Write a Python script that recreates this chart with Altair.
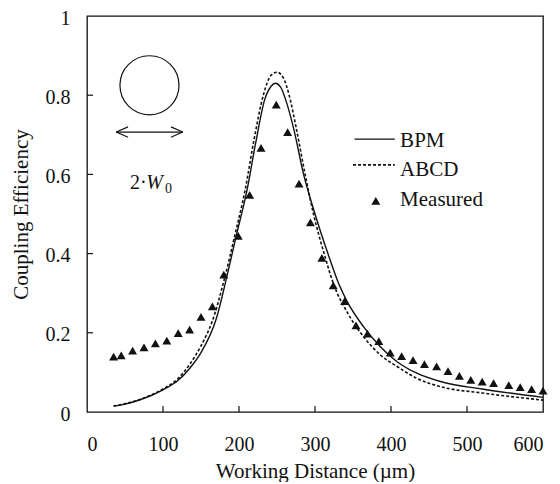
import altair as alt
import pandas as pd

FONT = "'Liberation Serif', 'Times New Roman', Times, serif"
INK = "#111111"

# Measured data (triangles)
meas_x = [35, 45, 60, 75, 90, 105, 120, 135, 150, 165, 180, 199, 214, 229, 249, 264, 279, 294,
          309, 324, 339, 354, 369, 384, 399, 414, 429, 444, 460, 475, 490, 505, 520, 535, 555,
          570, 585, 600]
meas_y = [0.140, 0.143, 0.155, 0.163, 0.173, 0.180, 0.199, 0.208, 0.240, 0.267, 0.347, 0.445,
          0.548, 0.667, 0.776, 0.707, 0.577, 0.479, 0.389, 0.320, 0.280, 0.219, 0.198, 0.179,
          0.150, 0.141, 0.131, 0.121, 0.115, 0.103, 0.091, 0.081, 0.077, 0.073, 0.068, 0.063,
          0.058, 0.054]

# BPM (solid)
bpm_x = [35, 50, 70, 100, 120, 135, 150, 170, 185, 197, 210, 222, 234, 242, 248, 255, 262, 272,
         285, 300, 317, 331, 342, 364, 386, 408, 434, 465, 520, 600]
bpm_y = [0.015, 0.020, 0.031, 0.056, 0.080, 0.110, 0.150, 0.235, 0.350, 0.450, 0.555, 0.680,
         0.790, 0.822, 0.830, 0.820, 0.785, 0.715, 0.600, 0.500, 0.400, 0.325, 0.280, 0.215,
         0.165, 0.127, 0.098, 0.077, 0.058, 0.037]

# ABCD (dotted)
abcd_x = [35, 70, 100, 120, 135, 150, 165, 180, 195, 208, 220, 232, 242, 250, 258, 266, 275, 287,
          298, 312, 325, 342, 364, 386, 408, 434, 465, 520, 600]
abcd_y = [0.015, 0.032, 0.058, 0.085, 0.120, 0.167, 0.230, 0.330, 0.450, 0.560, 0.690, 0.800,
          0.850, 0.858, 0.845, 0.800, 0.720, 0.600, 0.500, 0.400, 0.320, 0.253, 0.190, 0.144,
          0.115, 0.085, 0.064, 0.048, 0.030]

x_ticks = [0, 100, 200, 300, 400, 500, 600]
y_ticks = [0, 0.2, 0.4, 0.6, 0.8, 1.0]

# Legend entries (data coordinates)
leg_labels = ["BPM", "ABCD", "Measured"]
leg_text_x = [412, 412, 412]
leg_text_y = [0.684, 0.611, 0.536]

W, H = 456, 396
X_TITLE = "Working Distance (\u00b5m)"
Y_TITLE = "Coupling Efficiency"

xs = alt.Scale(domain=[0, 600], nice=False, zero=False)
ys = alt.Scale(domain=[0, 1], nice=False, zero=False)
x_axis = alt.Axis(values=x_ticks, format="d")
y_axis = alt.Axis(values=y_ticks, format="~g")


def X(f="x"):
    return alt.X(f"{f}:Q", scale=xs, axis=x_axis, title=X_TITLE)


def Y(f="y"):
    return alt.Y(f"{f}:Q", scale=ys, axis=y_axis, title=Y_TITLE)


meas = pd.DataFrame({"x": meas_x, "y": meas_y})
bpm = pd.DataFrame({"x": bpm_x, "y": bpm_y})
abcd = pd.DataFrame({"x": abcd_x, "y": abcd_y})

bpm_layer = alt.Chart(bpm).mark_line(color=INK, strokeWidth=1.4, interpolate="monotone").encode(
    x=X(), y=Y())

abcd_layer = alt.Chart(abcd).mark_line(color=INK, strokeWidth=1.6, strokeDash=[3, 2],
                                       interpolate="monotone").encode(x=X(), y=Y())

meas_layer = alt.Chart(meas).mark_point(shape="triangle-up", filled=True, color=INK, size=80,
                                        opacity=1).encode(x=X(), y=Y())

# inward tick marks
xt = pd.DataFrame({"x": x_ticks[1:-1]})
yt = pd.DataFrame({"y": y_ticks[1:-1]})
xtick_layer = alt.Chart(xt).mark_rule(color=INK, strokeWidth=1.2).encode(
    x=X(), y=alt.value(H), y2=alt.value(H - 6))
ytick_layer = alt.Chart(yt).mark_rule(color=INK, strokeWidth=1.2).encode(
    y=Y(), x=alt.value(0), x2=alt.value(6))

# legend samples
leg_solid = alt.Chart(pd.DataFrame({"x": [352], "x2": [405], "y": [0.689]})).mark_rule(
    color=INK, strokeWidth=1.4).encode(x=X(), x2="x2:Q", y=Y())
leg_dot = alt.Chart(pd.DataFrame({"x": [350], "x2": [405], "y": [0.624]})).mark_rule(
    color=INK, strokeWidth=1.6, strokeDash=[3, 2]).encode(x=X(), x2="x2:Q", y=Y())
leg_tri = alt.Chart(pd.DataFrame({"x": [380], "y": [0.533]})).mark_point(
    shape="triangle-up", filled=True, color=INK, size=80, opacity=1).encode(x=X(), y=Y())
leg_text = alt.Chart(pd.DataFrame({"x": leg_text_x, "y": leg_text_y, "t": leg_labels})).mark_text(
    align="left", baseline="middle", font=FONT, fontSize=21, color=INK).encode(
    x=X(), y=Y(), text="t:N")

# inset: circle, double arrow, 2·W0
circle = alt.Chart(pd.DataFrame({"x": [82.2], "y": [0.825]})).mark_point(
    shape="circle", filled=False, color=INK, size=3490, strokeWidth=1.2, opacity=1).encode(
    x=X(), y=Y())

seg = pd.DataFrame({
    "x":  [38.5, 38.5, 38.5, 126.0, 126.0],
    "x2": [126.0, 54.0, 54.0, 110.5, 110.5],
    "y":  [0.707, 0.707, 0.707, 0.707, 0.707],
    "y2": [0.707, 0.720, 0.694, 0.720, 0.694],
})
arrow = alt.Chart(seg).mark_rule(color=INK, strokeWidth=1.2).encode(
    x=X(), x2="x2:Q", y=Y(), y2="y2:Q")

t_two = alt.Chart(pd.DataFrame({"x": [56.5], "y": [0.578], "t": ["2\u00b7"]})).mark_text(
    align="left", baseline="middle", font=FONT, fontSize=20, color=INK).encode(
    x=X(), y=Y(), text="t:N")
t_w = alt.Chart(pd.DataFrame({"x": [78], "y": [0.578], "t": ["W"]})).mark_text(
    align="left", baseline="middle", font=FONT, fontSize=20, fontStyle="italic",
    color=INK).encode(x=X(), y=Y(), text="t:N")
t_sub = alt.Chart(pd.DataFrame({"x": [102.5], "y": [0.563], "t": ["0"]})).mark_text(
    align="left", baseline="middle", font=FONT, fontSize=14, color=INK).encode(
    x=X(), y=Y(), text="t:N")

chart = alt.layer(
    bpm_layer, abcd_layer, meas_layer, xtick_layer, ytick_layer,
    leg_solid, leg_dot, leg_tri, leg_text, circle, arrow, t_two, t_w, t_sub,
).properties(
    width=W, height=H,
    autosize=alt.AutoSizeParams(type="none"),
    padding={"left": 79, "top": 8, "right": 9, "bottom": 70},
).configure_view(
    stroke=INK, strokeWidth=1.3,
).configure_axis(
    domain=False, ticks=False, grid=False,
    labelFont=FONT, labelFontSize=20, labelColor=INK,
    titleFont=FONT, titleFontSize=21, titleColor=INK, titleFontWeight="normal",
).configure_axisX(
    labelPadding=22, titlePadding=6,
).configure_axisY(
    labelPadding=17, titlePadding=14, labelOffset=2,
)

chart.save("out.html", embed_options={"renderer": "svg", "actions": False})
